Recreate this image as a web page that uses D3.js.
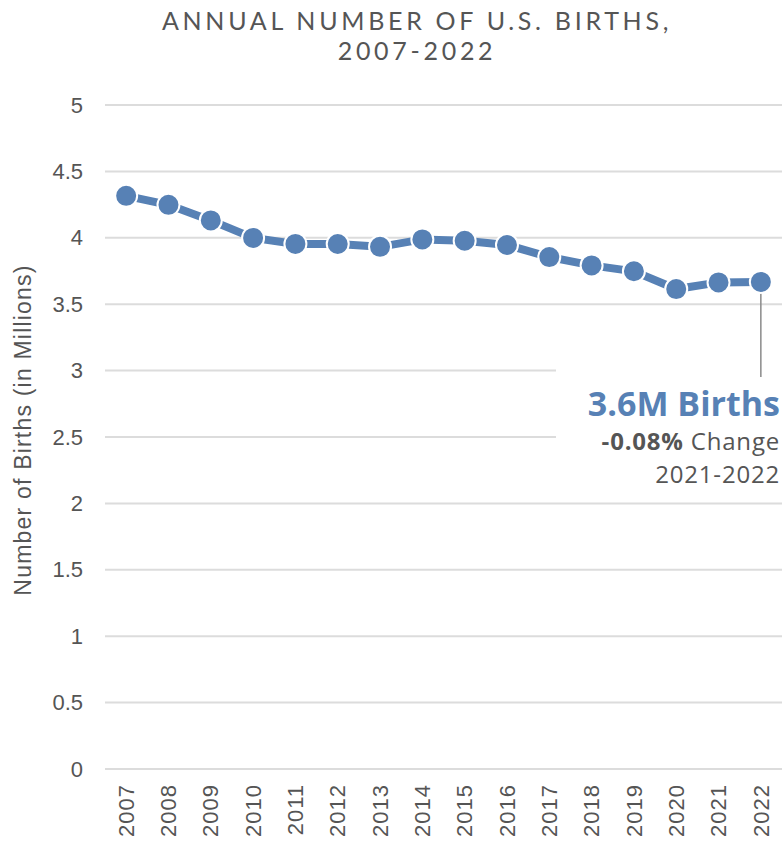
<!DOCTYPE html>
<html><head><meta charset="utf-8">
<script src="https://cdn.jsdelivr.net/npm/d3@7"></script>
<style>body{margin:0;background:#fff;}svg{display:block;}</style>
</head><body>
<svg id="c" width="782" height="842"></svg>
<script>
const years = ["2007","2008","2009","2010","2011","2012","2013","2014","2015","2016","2017","2018","2019","2020","2021","2022"];
const births = [4.316,4.248,4.131,3.999,3.954,3.953,3.932,3.988,3.978,3.946,3.855,3.792,3.748,3.614,3.664,3.668];
const yTicks = [0,0.5,1,1.5,2,2.5,3,3.5,4,4.5,5];
const titleLines = ["ANNUAL NUMBER OF U.S. BIRTHS,","2007-2022"];
const yTitle = "Number of Births (in Millions)";
const annoMain = "3.6M Births";
const annoChangeBold = "-0.08%";
const annoChange = " Change";
const annoPeriod = "2021-2022";

const font = "'Open Sans', sans-serif";
const titleFont = "Lato, 'Open Sans', sans-serif";
const axFont = "'Liberation Sans', Arial, sans-serif";
const blue = "#5781b5";
const grey = "#555";
const svg = d3.select("#c");
const x = d3.scaleBand().domain(years).range([105,782]).padding(0);
const y = d3.scaleLinear().domain([0,5]).range([769,105]);

// title (two separate lines)
svg.append("g").selectAll("text").data(titleLines).join("text")
  .attr("x",417).attr("y",(d,i)=>30+i*30).attr("text-anchor","middle")
  .attr("font-family",titleFont).attr("font-size",25).attr("fill",grey).attr("letter-spacing",3.7)
  .text(d=>d);

// grid
svg.append("g").selectAll("line").data(yTicks).join("line")
  .attr("x1",105).attr("x2",782).attr("y1",d=>y(d)).attr("y2",d=>y(d))
  .attr("stroke","#dcdcdc").attr("stroke-width",2);

// y axis labels
const yAxis = svg.append("g").attr("transform","translate(83,0)")
  .call(d3.axisLeft(y).tickValues(yTicks).tickSize(0).tickPadding(0).tickFormat(d3.format("~g")));
yAxis.select(".domain").remove();
yAxis.selectAll("text").attr("font-family",axFont).attr("font-size",22).attr("fill",grey);

// y title
svg.append("text").attr("transform","translate(31,430) rotate(-90)").attr("text-anchor","middle")
  .attr("font-family",axFont).attr("font-size",23).attr("letter-spacing",1.2).attr("fill",grey).text(yTitle);

// x axis labels
const xAxis = svg.append("g").attr("transform","translate(0,784)")
  .call(d3.axisBottom(x).tickSize(0).tickPadding(0));
xAxis.select(".domain").remove();
xAxis.selectAll("text").attr("font-family",axFont).attr("font-size",22).attr("fill",grey)
  .attr("letter-spacing",1)
  .attr("transform","rotate(-90)").attr("text-anchor","end").attr("dx",0).attr("dy","0.35em").attr("y",0).attr("x",0);

// annotation background (covers gridlines)
const last = years.length-1;
svg.append("rect").attr("x",556).attr("y",y(3.05)).attr("width",226).attr("height",y(2.4)-y(3.05)).attr("fill","#fff");

// connector
svg.append("line").attr("x1",x(years[last])+x.bandwidth()/2).attr("x2",x(years[last])+x.bandwidth()/2)
  .attr("y1",y(births[last])).attr("y2",377).attr("stroke","#8a8a8a").attr("stroke-width",1.5);

// line
const cx = d => x(d)+x.bandwidth()/2;
svg.append("path").datum(births).attr("fill","none").attr("stroke",blue).attr("stroke-width",8)
  .attr("d",d3.line().x((d,i)=>cx(years[i])).y(d=>y(d)));
svg.append("g").selectAll("circle").data(births).join("circle")
  .attr("cx",(d,i)=>cx(years[i])).attr("cy",d=>y(d)).attr("r",11)
  .attr("fill",blue).attr("stroke","#fff").attr("stroke-width",2);

// annotation texts
svg.append("text").attr("x",780).attr("y",416).attr("text-anchor","end")
  .attr("font-family",font).attr("font-size",34).attr("font-weight",700).attr("fill",blue).text(annoMain);
const t2 = svg.append("text").attr("x",780).attr("y",450).attr("text-anchor","end")
  .attr("font-family",font).attr("font-size",24).attr("letter-spacing",0.8).attr("fill",grey);
t2.append("tspan").attr("font-weight",700).text(annoChangeBold);
t2.append("tspan").text(annoChange);
svg.append("text").attr("x",780).attr("y",483).attr("text-anchor","end")
  .attr("font-family",font).attr("font-size",24).attr("letter-spacing",0.8).attr("fill",grey).text(annoPeriod);
</script>
</body></html>
